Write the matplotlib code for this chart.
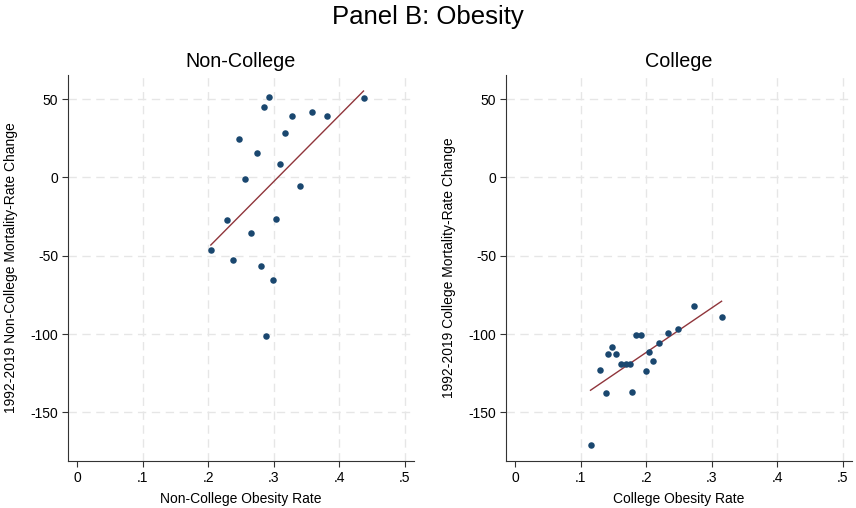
import numpy as np
import matplotlib.pyplot as plt

plt.rcParams['font.family'] = ['Liberation Sans', 'DejaVu Sans']
plt.rcParams['axes.unicode_minus'] = False

# Non-College panel
nc_x = [0.437, 0.293, 0.285, 0.328, 0.358, 0.381, 0.317, 0.247, 0.274, 0.309,
        0.256, 0.340, 0.229, 0.304, 0.266, 0.204, 0.238, 0.280, 0.299, 0.288]
nc_y = [50.8, 51.0, 45.0, 39.0, 41.5, 39.3, 28.2, 24.8, 15.8, 8.3,
        -1.3, -5.8, -26.9, -26.7, -35.7, -46.3, -52.6, -56.6, -65.4, -101.3]
nc_fit = (421.8, -129.2)  # slope, intercept

# College panel
c_x = [0.115, 0.138, 0.130, 0.142, 0.148, 0.154, 0.161, 0.169, 0.175, 0.179,
       0.184, 0.192, 0.199, 0.204, 0.211, 0.219, 0.233, 0.248, 0.273, 0.315]
c_y = [-170.5, -137.6, -122.7, -112.5, -108.5, -112.5, -118.9, -118.9, -119.3, -137.0,
       -100.6, -100.8, -123.4, -111.7, -117.2, -105.9, -99.4, -96.6, -82.0, -89.0]
c_fit = (284.0, -168.5)

xticks = [0, 0.1, 0.2, 0.3, 0.4, 0.5]
xticklabels = ['0', '.1', '.2', '.3', '.4', '.5']
yticks = [50, 0, -50, -100, -150]

fig = plt.figure(figsize=(8.56, 5.08), dpi=100)
ax1 = fig.add_axes([0.0794, 0.0925, 0.4042, 0.76])
ax2 = fig.add_axes([0.5911, 0.0925, 0.4042, 0.76])

panels = [
    (ax1, nc_x, nc_y, nc_fit, 'Non-College', 'Non-College Obesity Rate',
     '1992-2019 Non-College Mortality-Rate Change'),
    (ax2, c_x, c_y, c_fit, 'College', 'College Obesity Rate',
     '1992-2019 College Mortality-Rate Change'),
]

for ax, x, y, fit, title, xlab, ylab in panels:
    for t in xticks[1:]:
        ax.axvline(t, color='#e6e6e6', lw=1, ls=(0, (6, 4)), zorder=0)
    for t in yticks:
        ax.axhline(t, color='#e6e6e6', lw=1, ls=(0, (6, 4)), zorder=0)
    ax.scatter(x, y, s=22, color='#1a476f', zorder=3, linewidths=0)
    xs = np.array([min(x), max(x)])
    ax.plot(xs, fit[0] * xs + fit[1], color='#90353b', lw=1, zorder=2)
    ax.set_xlim(-0.014, 0.514)
    ax.set_ylim(-181, 65.4)
    ax.set_xticks(xticks)
    ax.set_xticklabels(xticklabels)
    ax.set_yticks(yticks)
    ax.tick_params(labelsize=10, length=4, color='#333333', pad=3)
    for s in ['top', 'right']:
        ax.spines[s].set_visible(False)
    for s in ['left', 'bottom']:
        ax.spines[s].set_color('#333333')
    ax.set_title(title, fontsize=14.2, pad=6)
    ax.set_xlabel(xlab, fontsize=10, labelpad=5)
    ax.set_ylabel(ylab, fontsize=10, labelpad=9)

fig.text(0.5, 0.966, 'Panel B: Obesity', ha='center', va='center', fontsize=18.5)

fig.savefig('out.png', dpi=100)
